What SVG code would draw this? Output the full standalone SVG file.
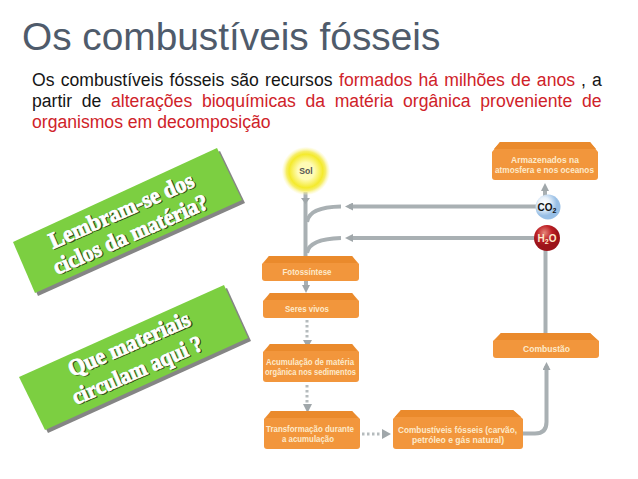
<svg xmlns="http://www.w3.org/2000/svg" width="638" height="479" viewBox="0 0 638 479">
<style>
.t{font-family:"Liberation Sans",Arial,sans-serif}
.title{font-size:38.800px;fill:#4f5b6b}
.b{font-size:17.600px;fill:#151515}
.r{fill:#cf2229}
.green{fill:#7ccf41}
.sh{fill:#858585}
.g{font-family:"Liberation Serif","Times New Roman",serif;font-weight:bold;font-size:23px;fill:#fff;stroke:#fff;stroke-width:.9}
.gs{font-family:"Liberation Serif","Times New Roman",serif;font-weight:bold;font-size:23px;fill:#2f4a1c;stroke:#2f4a1c;stroke-width:.9}
.f{fill:#f2963c}.ft{fill:#ea8a2c}
.n{font-family:"Liberation Sans",Arial,sans-serif;font-weight:bold;font-size:8.600px;fill:#fdeacb;text-anchor:middle}
.c{fill:none;stroke:#a9b0b3;stroke-width:4}
.d{fill:none;stroke:#b5bbbd;stroke-width:3;stroke-dasharray:2.500 2.500}
.ah{fill:#a0a7aa}
</style>
<defs>
<radialGradient id="sun"><stop offset="0.35" stop-color="#fffbb5"/><stop offset="0.7" stop-color="#f4ea2c"/><stop offset="0.82" stop-color="#f6ee6a"/><stop offset="1" stop-color="#fdf8c0" stop-opacity=".15"/></radialGradient>
<radialGradient id="co2" cx=".35" cy=".35"><stop offset="0" stop-color="#ffffff"/><stop offset=".45" stop-color="#eaf2fa"/><stop offset="1" stop-color="#98bfe6"/></radialGradient>
<radialGradient id="h2o" cx=".4" cy=".3"><stop offset="0" stop-color="#e5877a"/><stop offset=".6" stop-color="#bd1f24"/><stop offset="1" stop-color="#9c141a"/></radialGradient>
<filter id="bl" x="-5%" y="-5%" width="110%" height="110%"><feGaussianBlur stdDeviation=".45"/></filter>
<marker id="a" viewBox="0 0 10 10" refX="5" refY="5" markerWidth="2" markerHeight="2" orient="auto"><path class="ah" d="M0 0L10 5L0 10z"/></marker>
</defs>
<text class="t title" x="22" y="50">Os combustíveis fósseis</text>
<g class="t b">
<text y="86" word-spacing="1.300"><tspan x="32">Os combustíveis fósseis são recursos</tspan><tspan class="r" x="339">formados há milhões de anos</tspan><tspan x="581">,</tspan><tspan x="592">a</tspan></text>
<text y="107" word-spacing="4.800"><tspan x="32">partir de </tspan><tspan class="r">alterações bioquímicas da matéria orgânica proveniente de</tspan></text>
<text y="128" class="r"><tspan x="32">organismos em decomposição</tspan></text>
</g>
<g id="box1">
<polygon class="sh" points="220,151 245,203 38,296 16,245"/>
<polygon class="green" points="217,148 242,200 35,293 13,242"/>
<g transform="translate(53 249) rotate(-23.800)"><text class="gs" x="1" y="1" textLength="156" lengthAdjust="spacingAndGlyphs">Lembram-se dos</text><text class="g" textLength="156" lengthAdjust="spacingAndGlyphs">Lembram-se dos</text></g>
<g transform="translate(57 275) rotate(-23.800)"><text class="gs" x="1" y="1" textLength="167" lengthAdjust="spacingAndGlyphs">ciclos da matéria?</text><text class="g" textLength="167" lengthAdjust="spacingAndGlyphs">ciclos da matéria?</text></g>
</g>
<g id="box2">
<polygon class="sh" points="227,288 251,341 48,433 22,380"/>
<polygon class="green" points="224,285 248,338 45,430 19,377"/>
<g transform="translate(72 377) rotate(-23.500)"><text class="gs" x="1" y="1" textLength="131" lengthAdjust="spacingAndGlyphs">Que materiais</text><text class="g" textLength="131" lengthAdjust="spacingAndGlyphs">Que materiais</text></g>
<g transform="translate(76 405) rotate(-23.500)"><text class="gs" x="1" y="1" textLength="140" lengthAdjust="spacingAndGlyphs">circulam aqui ?</text><text class="g" textLength="140" lengthAdjust="spacingAndGlyphs">circulam aqui ?</text></g>
</g>
<g id="connectors" filter="url(#bl)">
<path class="c" d="M305.500 192V256"/>
<path class="ah" d="M301 198H310L305.500 204z"/>
<path class="c" d="M307 222Q309 207 341 206.500"/>
<path class="c" d="M307 253Q309 239 341 238"/>
<path class="c" d="M540 206.500H349" marker-end="url(#a)"/>
<path class="c" d="M540 238H349" marker-end="url(#a)"/>
<path class="c" d="M545 197V187" marker-end="url(#a)"/>
<path class="c" d="M545.500 250V337"/>
<path class="c" d="M306 281V289" marker-end="url(#a)"/>
<path class="d" d="M307 320V341"/><path class="ah" d="M303 340H312L307.500 348z"/>
<path class="d" d="M307 385V405"/><path class="ah" d="M303 404H312L307.500 413z"/>
<path class="d" d="M362 434H383"/><path class="ah" d="M382 429L391 434L382 439z"/>
<path class="c" d="M523 433.500H535Q546.500 433.500 546.500 422V366" marker-end="url(#a)"/>
</g>
<g id="sol"><circle cx="306" cy="171" r="24" fill="url(#sun)"/><text class="n" x="306" y="174" style="fill:#555">Sol</text></g>
<g id="co2n"><circle cx="548" cy="207" r="12.500" fill="url(#co2)"/><text class="n" x="547" y="211" style="fill:#111;font-size:10px">CO<tspan font-size="7" dy="2">2</tspan></text></g>
<g id="h2on"><circle cx="547" cy="238" r="13" fill="url(#h2o)"/><text class="n" x="547" y="242" style="font-size:10px">H<tspan font-size="7" dy="2">2</tspan><tspan dy="-2">O</tspan></text></g>
<g id="armazenados"><path class="f" d="M492 152L500 142H590L598 152V177Q598 180 595 180H495Q492 180 492 177z"/><path class="ft" d="M500 142H590L596 149H494z"/><text class="n" x="545" y="163" textLength="68" lengthAdjust="spacingAndGlyphs">Armazenados na</text><text class="n" x="544.500" y="173" textLength="99" lengthAdjust="spacingAndGlyphs">atmosfera e nos oceanos</text></g>
<g id="fotossintese"><path class="f" d="M262 264L269 256H352L359 264V278Q359 281 356 281H265Q262 281 262 278z"/><path class="ft" d="M269 256H352L357 263H264z"/><text class="n" x="307" y="275" textLength="49" lengthAdjust="spacingAndGlyphs">Fotossíntese</text></g>
<g id="seres"><path class="f" d="M263 301L270 293H352L359 301V315Q359 318 356 318H266Q263 318 263 315z"/><path class="ft" d="M270 293H352L357 300H265z"/><text class="n" x="307" y="312" textLength="44" lengthAdjust="spacingAndGlyphs">Seres vivos</text></g>
<g id="acumulacao"><path class="f" d="M263 352L270 344H352L359 352V379Q359 382 356 382H266Q263 382 263 379z"/><path class="ft" d="M270 344H352L357 351H265z"/><text class="n" x="310" y="365" textLength="88" lengthAdjust="spacingAndGlyphs">Acumulação de matéria</text><text class="n" x="310.500" y="375" textLength="91" lengthAdjust="spacingAndGlyphs">orgânica nos sedimentos</text></g>
<g id="transformacao"><path class="f" d="M264 419L271 411H352L360 419V446Q360 449 357 449H267Q264 449 264 446z"/><path class="ft" d="M271 411H352L358 418H266z"/><text class="n" x="310" y="432" textLength="88" lengthAdjust="spacingAndGlyphs">Transformação durante</text><text class="n" x="308" y="442" textLength="52" lengthAdjust="spacingAndGlyphs">a acumulação</text></g>
<g id="combustiveis"><path class="f" d="M393 419L401 410H513L523 419V446Q523 449 520 449H396Q393 449 393 446z"/><path class="ft" d="M401 410H513L521 417H395z"/><text class="n" x="457.500" y="433" textLength="119" lengthAdjust="spacingAndGlyphs">Combustíveis fósseis (carvão,</text><text class="n" x="458" y="443" textLength="92" lengthAdjust="spacingAndGlyphs">petróleo e gás natural)</text></g>
<g id="combustao"><path class="f" d="M493 341L501 333H590L599 341V355Q599 358 596 358H496Q493 358 493 355z"/><path class="ft" d="M501 333H590L597 340H495z"/><text class="n" x="546.500" y="352" textLength="47" lengthAdjust="spacingAndGlyphs">Combustão</text></g>
</svg>
